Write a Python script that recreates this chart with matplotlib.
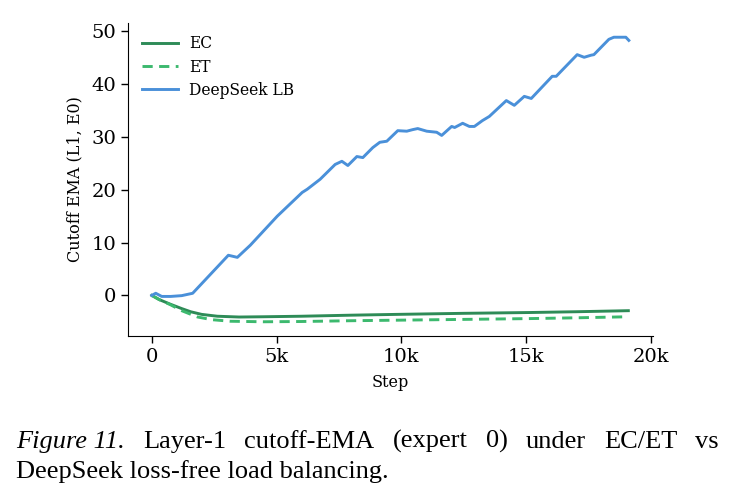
import matplotlib
matplotlib.use("Agg")
import matplotlib.pyplot as plt

# ----------------------------------------------
#                DATA
# ----------------------------------------------
steps_ds = [0, 160, 400, 760, 1200, 1640, 3070, 3430, 3950, 5030, 6030, 6230, 6750, 7350, 7620,
            7860, 8220, 8460, 8860, 9140, 9420, 9860, 10220, 10460, 10660, 11020, 11420,
            11620, 12020, 12140, 12460, 12730, 12930, 13250, 13530, 14210, 14530, 14930,
            15210, 16050, 16210, 17050, 17330, 17610, 17720, 18320, 18520, 19000, 19120]
cutoff_ds = [0.0, 0.4, -0.2, -0.2, -0.05, 0.4, 7.6, 7.2, 9.5, 15.0, 19.5, 20.1, 22.0, 24.8, 25.4,
             24.6, 26.3, 26.1, 28.0, 29.0, 29.2, 31.2, 31.1, 31.4, 31.6, 31.1, 30.9,
             30.3, 32.0, 31.8, 32.6, 32.0, 32.0, 33.1, 33.9, 36.9, 36.0, 37.7,
             37.3, 41.5, 41.5, 45.6, 45.1, 45.5, 45.6, 48.5, 48.9, 48.9, 48.3]

steps_ec = [0, 300, 760, 1200, 1560, 2000, 2630, 3500, 4470, 6000, 8000, 9820, 12500, 15100, 17000, 19100]
cutoff_ec = [0.0, -0.8, -1.7, -2.5, -3.1, -3.6, -3.95, -4.1, -4.05, -3.95, -3.75, -3.6, -3.4, -3.25, -3.1, -2.9]

steps_et = [0, 300, 760, 1200, 1840, 2400, 3150, 4470, 6000, 8000, 9820, 12500, 15100, 17000, 19100]
cutoff_et = [0.0, -0.8, -1.8, -2.9, -4.1, -4.6, -4.9, -5.0, -4.95, -4.8, -4.7, -4.55, -4.4, -4.25, -4.05]

xticks = [0, 5000, 10000, 15000, 20000]
xtick_labels = ["0", "5k", "10k", "15k", "20k"]
yticks = [0, 10, 20, 30, 40, 50]

# ----------------------------------------------
#                PLOT
# ----------------------------------------------
plt.rcParams["font.family"] = "DejaVu Serif"

fig = plt.figure(figsize=(7.35, 5.0), dpi=100)
ax = fig.add_axes([0.174, 0.328, 0.714, 0.626])

ax.plot(steps_ec, cutoff_ec, color="#2e8b57", lw=2.1, label="EC")
ax.plot(steps_et, cutoff_et, color="#3cb96e", lw=2.1, ls=(0, (3.5, 2.2)), label="ET")
ax.plot(steps_ds, cutoff_ds, color="#4a90d9", lw=2.1, label="DeepSeek LB")

ax.set_xticks(xticks)
ax.set_xticklabels(xtick_labels)
ax.set_yticks(yticks)
ax.tick_params(labelsize=14, length=5, width=1)
ax.set_xlabel("Step", fontsize=11.5, labelpad=6)
ax.set_ylabel("Cutoff EMA (L1, E0)", fontsize=11.5, labelpad=6)
for s in ["top", "right"]:
    ax.spines[s].set_visible(False)

ax.legend(loc="upper left", frameon=False, fontsize=11.2, handlelength=2.3,
          handletextpad=0.75, bbox_to_anchor=(0.0, 1.005), labelspacing=0.4)

# caption (Times-like, first line justified)
cap = dict(family="Liberation Serif", fontsize=19, va="baseline")
y1 = 1 - 448 / 500
y2 = 1 - 478 / 500
x_left, x_right = 16 / 735, 719 / 735
words = ["Figure 11.", "Layer-1", "cutoff-EMA", "(expert", "0)", "under", "EC/ET", "vs"]
texts = []
for i, w in enumerate(words):
    t = fig.text(0, y1, w, style="italic" if i == 0 else "normal", **cap)
    texts.append(t)
fig.canvas.draw()
r = fig.canvas.get_renderer()
widths = [t.get_window_extent(r).width / fig.bbox.width for t in texts]
gap = (x_right - x_left - sum(widths)) / (len(words) - 1)
x = x_left
for t, w in zip(texts, widths):
    t.set_x(x)
    x += w + gap
fig.text(x_left, y2, "DeepSeek loss-free load balancing.", **cap)

fig.savefig("out.png", dpi=100)
